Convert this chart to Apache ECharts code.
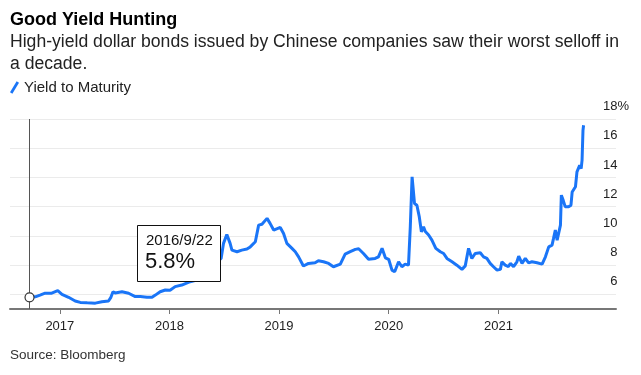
<!DOCTYPE html>
<html>
<head>
<meta charset="utf-8">
<script src="https://cdn.jsdelivr.net/npm/echarts@6/dist/echarts.min.js"></script>
<style>
  html, body { margin: 0; padding: 0; background: #fff; }
  #chart { width: 641px; height: 375px; }
</style>
</head>
<body>
<div id="chart"></div>
<script>
  // yield to maturity
  var dates = [
    '2016-09-22', '2016-10-11', '2016-10-27', '2016-11-13', '2016-12-05', '2016-12-25',
    '2017-01-08', '2017-01-30', '2017-02-21', '2017-03-10', '2017-04-02', '2017-04-29',
    '2017-05-21', '2017-06-12', '2017-06-20', '2017-06-27', '2017-07-04', '2017-07-27',
    '2017-08-18', '2017-09-09', '2017-09-26', '2017-10-18', '2017-11-04', '2017-11-15',
    '2017-12-01', '2017-12-18', '2018-01-03', '2018-01-20', '2018-02-11', '2018-03-11',
    '2018-04-02', '2018-04-23', '2018-05-13', '2018-06-02', '2018-06-22', '2018-06-30',
    '2018-07-11', '2018-07-22', '2018-07-28', '2018-08-14', '2018-08-30', '2018-09-16',
    '2018-09-27', '2018-10-14', '2018-10-25', '2018-11-05', '2018-11-22', '2018-12-02',
    '2018-12-14', '2019-01-05', '2019-01-16', '2019-01-27', '2019-02-13', '2019-02-24',
    '2019-03-07', '2019-03-23', '2019-04-09', '2019-05-01', '2019-05-12', '2019-05-29',
    '2019-06-15', '2019-07-01', '2019-07-24', '2019-08-09', '2019-08-26', '2019-09-12',
    '2019-09-23', '2019-10-09', '2019-10-26', '2019-11-17', '2019-11-28', '2019-12-10',
    '2019-12-21', '2020-01-01', '2020-01-12', '2020-01-21', '2020-02-03', '2020-02-14',
    '2020-02-25', '2020-03-07', '2020-03-13', '2020-03-19', '2020-03-24', '2020-03-27',
    '2020-04-04', '2020-04-12', '2020-04-19', '2020-04-26', '2020-05-02', '2020-05-13',
    '2020-05-24', '2020-05-30', '2020-06-06', '2020-06-21', '2020-07-02', '2020-07-13',
    '2020-07-30', '2020-08-15', '2020-09-01', '2020-09-12', '2020-09-23', '2020-10-04',
    '2020-10-15', '2020-11-01', '2020-11-12', '2020-11-23', '2020-12-04', '2020-12-15',
    '2020-12-27', '2021-01-07', '2021-01-12', '2021-01-23', '2021-02-03', '2021-02-09',
    '2021-02-20', '2021-03-03', '2021-03-09', '2021-03-20', '2021-03-31', '2021-04-11',
    '2021-04-22', '2021-05-09', '2021-05-26', '2021-06-06', '2021-06-17', '2021-06-28',
    '2021-07-03', '2021-07-09', '2021-07-15', '2021-07-20', '2021-07-26', '2021-07-29',
    '2021-08-04', '2021-08-11', '2021-08-22', '2021-08-30', '2021-09-03', '2021-09-14',
    '2021-09-19', '2021-09-28', '2021-10-03', '2021-10-06', '2021-10-09', '2021-10-11'
  ]
  var yields = [
    5.8, 5.83, 5.95, 6.08, 6.08, 6.25,
    6.0, 5.8, 5.55, 5.45, 5.42, 5.4,
    5.5, 5.55, 5.8, 6.18, 6.1, 6.18,
    6.08, 5.85, 5.85, 5.8, 5.8, 5.95,
    6.18, 6.3, 6.28, 6.53, 6.64, 6.87,
    6.98, 7.3, 7.8, 8.1, 8.46, 9.49,
    10.1, 9.49, 9.03, 8.92, 9.03, 9.1,
    9.25, 9.6, 10.74, 10.8, 11.2, 10.86,
    10.4, 10.58, 10.17, 9.49, 9.15, 8.92,
    8.57, 7.94, 8.12, 8.16, 8.3, 8.23,
    8.12, 7.89, 8.07, 8.75, 8.92, 9.08,
    9.12, 8.8, 8.4, 8.46, 8.57, 9.15,
    8.5, 8.4, 7.66, 7.55, 8.23, 7.89,
    8.07, 8.0, 10.62, 14.04, 13.93, 12.22,
    12.1, 11.3, 10.28, 10.62, 10.3, 10.06,
    9.71, 9.83, 9.15, 8.92, 8.8, 8.46,
    8.23, 8.0, 7.71, 7.95, 9.15, 8.46,
    8.8, 8.85, 8.57, 8.46, 8.12, 7.89,
    7.66, 7.71, 8.23, 8.0, 7.9, 8.12,
    7.9, 8.23, 8.62, 8.12, 8.46, 8.16,
    8.23, 8.16, 8.07, 8.57, 9.25, 9.37,
    9.83, 10.4, 9.71, 9.83, 10.74, 12.79,
    12.45, 11.99, 11.99, 12.1, 13.0, 13.36,
    14.38, 14.84, 14.6, 15.18, 17.2, 17.57
  ]
  // years that get a tick and a label on the x axis
  var years = [2017, 2018, 2019, 2020, 2021]

  var blue = '#1a75f7'
  var ink = '#222'
  var font = 'Liberation Sans, Arial, Helvetica, sans-serif'

  function toTime(s) {
    var p = s.split('-')
    return new Date(+p[0], +p[1] - 1, +p[2]).getTime()
  }

  var seriesData = dates.map(function (d, i) {
    return [toTime(d), yields[i]]
  })
  var yearTicks = years.map(function (y) {
    return new Date(y, 0, 1).getTime()
  })

  // label for the annotation box, from the first point
  var first = dates[0].split('-')
  var boxDate = first[0] + '/' + parseInt(first[1], 10) + '/' + parseInt(first[2], 10)
  var boxValue = yields[0].toFixed(1) + '%'

  var chart = echarts.init(document.getElementById('chart'), null, { renderer: 'canvas' })

  chart.setOption({
    animation: false,
    textStyle: { fontFamily: font },
    title: [
      {
        text: 'Good Yield Hunting',
        left: 10,
        top: 11,
        padding: 0,
        textStyle: { fontSize: 18, fontWeight: 'bold', color: '#000', fontFamily: font }
      },
      {
        text: 'High-yield dollar bonds issued by Chinese companies saw their worst selloff in\na decade.',
        left: 10,
        top: 31,
        padding: 0,
        textStyle: { fontSize: 17.6, fontWeight: 'normal', color: ink, lineHeight: 22, fontFamily: font }
      },
      {
        text: 'Source: Bloomberg',
        left: 10,
        top: 348,
        padding: 0,
        textStyle: { fontSize: 13.5, fontWeight: 'normal', color: '#333', fontFamily: font }
      }
    ],
    legend: {
      left: 10,
      top: 80,
      padding: 0,
      itemWidth: 9,
      itemHeight: 13,
      itemGap: 5,
      icon: 'path://M0,11.5 L7,0 L9.5,1.5 L2.5,13 Z',
      textStyle: { fontSize: 15, color: ink, fontFamily: font },
      data: ['Yield to Maturity']
    },
    grid: {
      left: 10,
      right: 25,
      top: 119,
      bottom: 66
    },
    xAxis: {
      type: 'value',
      min: toTime('2016-07-19'),
      max: toTime('2022-01-27'),
      scale: true,
      axisLine: { lineStyle: { color: '#777', width: 2 } },
      axisTick: {
        show: true,
        length: 5,
        customValues: yearTicks,
        lineStyle: { color: '#777', width: 1 }
      },
      splitLine: { show: false },
      axisLabel: {
        margin: 11,
        fontSize: 13,
        color: ink,
        fontFamily: font,
        customValues: yearTicks,
        formatter: function (v) {
          return String(new Date(v).getFullYear())
        }
      }
    },
    yAxis: {
      type: 'value',
      position: 'right',
      min: 5,
      max: 18,
      splitNumber: 6,
      axisLine: { show: false },
      axisTick: { show: false },
      splitLine: { lineStyle: { color: '#ebebeb', width: 1 } },
      axisLabel: {
        margin: 13,
        align: 'right',
        verticalAlign: 'bottom',
        padding: [0, 0, 6, 0],
        fontSize: 13,
        color: ink,
        fontFamily: font,
        formatter: function (v) {
          if (v === 5) return ''
          if (v === 18) return '18%'
          // keep the numbers lined up under "18" by reserving the % width
          return v + '{s|%}'
        },
        rich: {
          s: { fontSize: 13, color: 'rgba(0,0,0,0)', fontFamily: font }
        }
      }
    },
    series: [
      {
        name: 'Yield to Maturity',
        type: 'line',
        data: seriesData,
        showSymbol: false,
        symbol: 'none',
        color: blue,
        lineStyle: { color: blue, width: 3 },
        z: 3,
        markLine: {
          silent: true,
          symbol: ['none', 'none'],
          label: { show: false },
          lineStyle: { color: '#555', width: 1, type: 'solid' },
          data: [{ xAxis: seriesData[0][0] }]
        },
        markPoint: {
          silent: true,
          symbol: 'circle',
          symbolSize: 9,
          label: { show: false },
          itemStyle: { color: '#fff', borderColor: '#333', borderWidth: 1.2 },
          data: [{ coord: seriesData[0] }]
        }
      }
    ],
    graphic: [
      {
        type: 'rect',
        left: 137,
        top: 225,
        z: 100,
        zlevel: 1,
        shape: { width: 83, height: 56 },
        style: { fill: '#fff', stroke: '#111', lineWidth: 1 }
      },
      {
        type: 'text',
        left: 146,
        top: 233,
        z: 101,
        zlevel: 1,
        style: { text: boxDate, fontSize: 15, fill: '#111', fontFamily: font }
      },
      {
        type: 'text',
        left: 145,
        top: 251,
        z: 101,
        zlevel: 1,
        style: { text: boxValue, fontSize: 22, fill: '#111', fontFamily: font }
      }
    ]
  })
</script>
</body>
</html>
